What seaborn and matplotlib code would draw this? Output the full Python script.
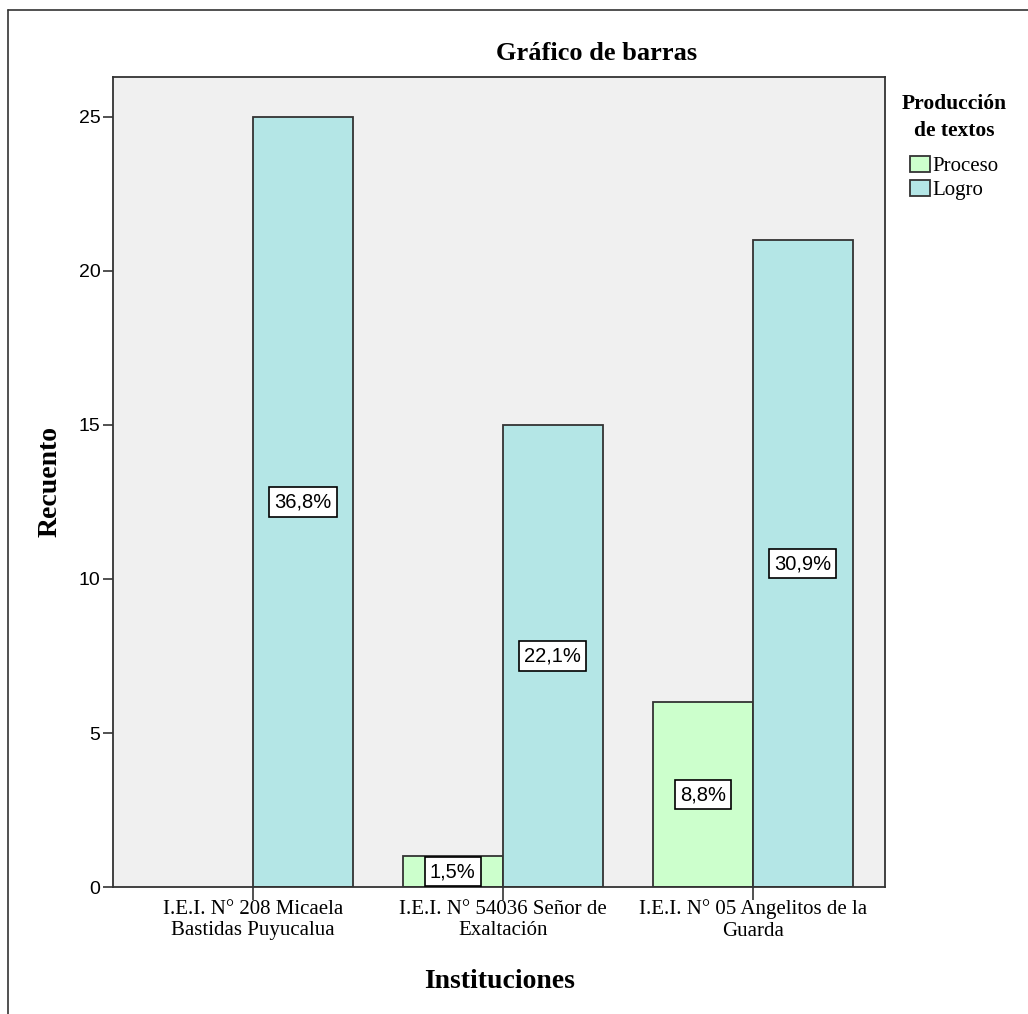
import matplotlib
matplotlib.use("Agg")
import matplotlib.pyplot as plt
import pandas as pd
import seaborn as sns

# %% Data
instituciones = [
    "I.E.I. N° 208 Micaela\nBastidas Puyucalua",
    "I.E.I. N° 54036 Señor de\nExaltación",
    "I.E.I. N° 05 Angelitos de la\nGuarda",
]
niveles = ["Proceso", "Logro"]
proceso = [0, 1, 6]
logro = [25, 15, 21]
pct_proceso = ["", "1,5%", "8,8%"]
pct_logro = ["36,8%", "22,1%", "30,9%"]
y_ticks = [0, 5, 10, 15, 20, 25]

df = pd.DataFrame({
    "institucion": instituciones * 2,
    "nivel": ["Proceso"] * 3 + ["Logro"] * 3,
    "recuento": proceso + logro,
    "pct": pct_proceso + pct_logro,
})

# %% Plot
sns.set_theme(style="white")
plt.rcParams["text.color"] = "black"
plt.rcParams["axes.labelcolor"] = "black"
plt.rcParams["xtick.color"] = "black"
plt.rcParams["ytick.color"] = "black"
serif = ["Liberation Serif", "DejaVu Serif"]
sans = ["Liberation Sans", "DejaVu Sans"]

fig = plt.figure(figsize=(10.28, 10.14), dpi=100)
ax = fig.add_axes([0.110, 0.1252, 0.751, 0.799])
ax.set_facecolor("#f0f0f0")

sns.barplot(
    data=df, x="institucion", y="recuento", hue="nivel", hue_order=niveles,
    order=instituciones, palette={"Proceso": "#ccffcc", "Logro": "#b4e6e6"},
    saturation=1, width=0.8, edgecolor="#333333", linewidth=1.3, ax=ax,
    legend=True,
)

# hide the zero-height bar outline
for cont, lev in zip(ax.containers, niveles):
    for bar, val in zip(cont, df[df["nivel"] == lev]["recuento"]):
        if val == 0:
            bar.set_visible(False)

# percentage labels
for cont, lev in zip(ax.containers, niveles):
    labels = list(df[df["nivel"] == lev]["pct"])
    for bar, lab in zip(cont, labels):
        if not lab:
            continue
        ax.text(
            bar.get_x() + bar.get_width() / 2, bar.get_height() / 2, lab,
            ha="center", va="center", fontsize=14.5, family=sans, color="black",
            bbox=dict(boxstyle="square,pad=0.25", facecolor="white",
                      edgecolor="black", linewidth=1.2),
        )

ax.set_xlim(-0.56, 2.53)
ax.set_ylim(0, 26.3)
ax.set_yticks(y_ticks)
ax.set_yticklabels([str(t) for t in y_ticks], family=sans, fontsize=14)
ax.set_xticks(range(3))
ax.set_xticklabels(instituciones, family=serif, fontsize=15, linespacing=1.2)
ax.tick_params(axis="x", bottom=True, direction="out", length=9, width=1.2,
               color="#333333", pad=0)
ax.tick_params(axis="y", left=True, direction="out", length=7, width=1.2,
               color="#333333", pad=2)
for s in ax.spines.values():
    s.set_color("#333333")
    s.set_linewidth(1.3)

ax.set_xlabel("Instituciones", family=serif, fontsize=20, fontweight="bold", labelpad=20)
ax.set_ylabel("Recuento", family=serif, fontsize=20, fontweight="bold", labelpad=12)
ax.set_title("Gráfico de barras", family=serif, fontsize=19, fontweight="bold",
             x=0.626, pad=12)

leg = ax.legend(
    title="Producción\nde textos", loc="upper left", bbox_to_anchor=(1.0, 1.0),
    frameon=False, prop={"family": serif, "size": 15}, handlelength=0.95,
    handleheight=0.75, handletextpad=0.1, labelspacing=0.2, borderaxespad=0.4,
    alignment="center",
)
leg.get_title().set_fontfamily(serif)
leg.get_title().set_fontsize(15.5)
leg.get_title().set_fontweight("bold")
leg.get_title().set_multialignment("center")
leg.get_title().set_linespacing(1.5)
leg._legend_box.sep = 11  # extra gap between title and entries
for h in leg.legend_handles:
    h.set_edgecolor("#333333")
    h.set_linewidth(1.3)

# outer frame lines (top and left)
fig.add_artist(plt.Line2D([0.008, 1.0], [0.990, 0.990], color="#333333", lw=1.2))
fig.add_artist(plt.Line2D([0.008, 0.008], [0.0, 0.990], color="#333333", lw=1.2))

fig.savefig("out.png", dpi=100)
